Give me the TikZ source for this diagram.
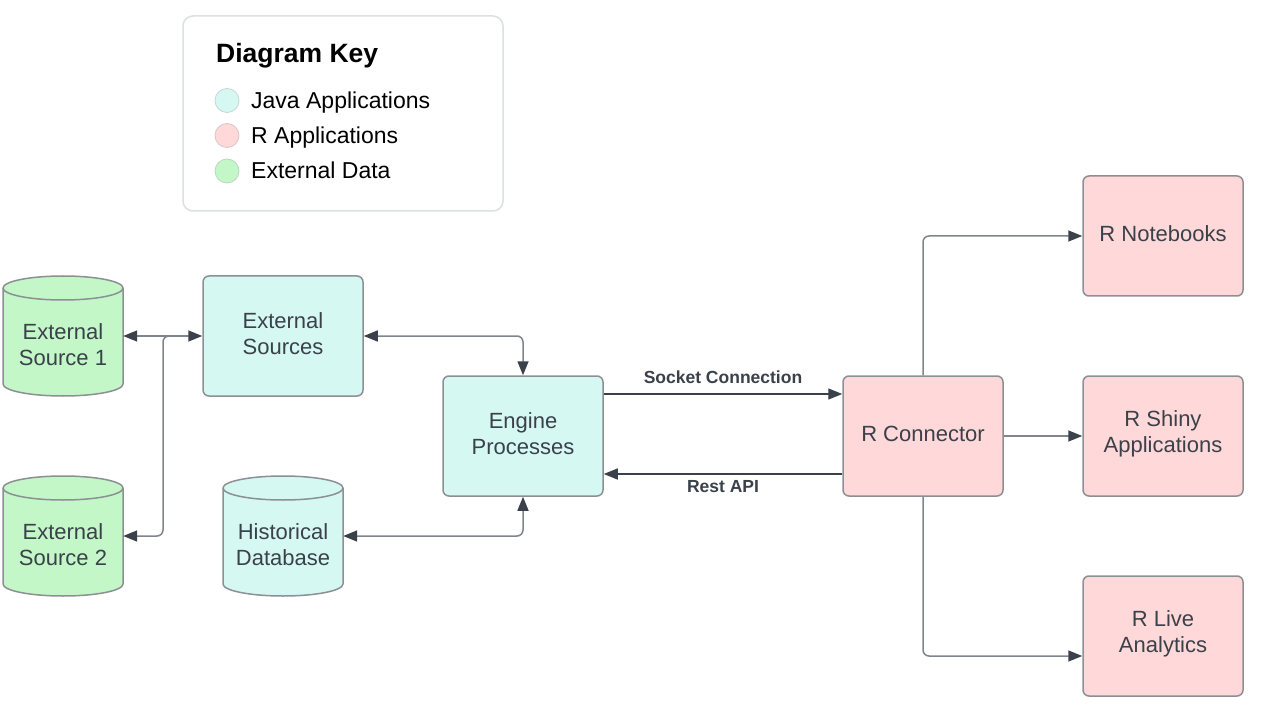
\documentclass[tikz,border=0pt]{standalone}
\usepackage{fontspec}
\setmainfont{Liberation Sans}
\usetikzlibrary{arrows.meta}
\definecolor{txt}{HTML}{3A414A}
\definecolor{bord}{HTML}{8C8F94}
\definecolor{keybord}{HTML}{DCDFE3}
\definecolor{javaF}{HTML}{D6F8F3}
\definecolor{rF}{HTML}{FFD8D9}
\definecolor{extF}{HTML}{C3F7C8}
\definecolor{lineC}{HTML}{80858C}
\begin{document}
\begin{tikzpicture}[x=1pt,y=-1pt,
  boxtext/.style={text=txt, align=center, font=\fontsize{22}{26}\selectfont},
  box/.style={draw=bord, line width=1.5pt, rounded corners=6pt,
    minimum width=160pt, minimum height=120pt, inner sep=0pt},
  boxlabel/.style={label={[boxtext, yshift=2pt]center:{#1}}},
  cylnode/.style={minimum width=120pt, minimum height=120pt, inner sep=0pt},
  cyllabel/.style={label={[boxtext, yshift=-9pt]center:{#1}}},
  cyl/.style={draw=bord, line width=1.5pt},
  >={Triangle[length=14pt,width=11pt,color=txt]},
  arr/.style={draw=lineC, line width=1.5pt, rounded corners=6pt},
  arrd/.style={draw=txt, line width=1.3pt},
  lbl/.style={text=txt, font=\bfseries\fontsize{17.5}{20}\selectfont, inner sep=3.3pt},
  keytext/.style={anchor=base west, font=\fontsize{23}{27}\selectfont, text=black, inner sep=0pt},
  keydot/.style={circle, minimum size=24pt, inner sep=0pt, line width=0.8pt}
]
\useasboundingbox[fill=white] (0,0) rectangle (1261,711);

% ---- Key ----
\node[draw=keybord, line width=1.5pt, rounded corners=10pt, minimum width=320pt,
  minimum height=195pt, inner sep=0pt] (key) at (343,113.5) {};
\node[keytext, font=\bfseries\fontsize{26.5}{30}\selectfont] (keytitle) at (216,63) {Diagram Key};
\node[keydot, fill=javaF, draw=javaF!75!black!60] (k1) at (227,100.5) {};
\node[keytext] (k1t) at (251,109) {Java Applications};
\node[keydot, fill=rF, draw=rF!75!black!60] (k2) at (227,135.5) {};
\node[keytext] (k2t) at (251,144) {R Applications};
\node[keydot, fill=extF, draw=extF!75!black!60] (k3) at (227,171) {};
\node[keytext] (k3t) at (251,179) {External Data};

% ---- Cylinders ----
\foreach \cx/\cy/\col in {63/336/extF, 63/536/extF, 283/536/javaF}{
  \path[cyl, fill=\col] (\cx-60,\cy-48) -- (\cx-60,\cy+48)
    arc[start angle=180, end angle=0, x radius=60, y radius=12]
    -- (\cx+60,\cy-48)
    arc[start angle=0, end angle=-180, x radius=60, y radius=12] -- cycle;
  \draw[cyl] (\cx-60,\cy-48) arc[start angle=180, end angle=0, x radius=60, y radius=12];
}
\node[cylnode, cyllabel={External\\Source 1}] (es1) at (63,336) {};
\node[cylnode, cyllabel={External\\Source 2}] (es2) at (63,536) {};
\node[cylnode, cyllabel={Historical\\Database}] (hdb) at (283,536) {};

% ---- Boxes ----
\node[box, fill=javaF, boxlabel={External\\Sources}] (exs) at (283,336) {};
\node[box, fill=javaF, boxlabel={Engine\\Processes}] (eng) at (523,436) {};
\node[box, fill=rF, boxlabel={R Connector}] (rc) at (923,436) {};
\node[box, fill=rF, boxlabel={R Notebooks}] (rnb) at (1163,236) {};
\node[box, fill=rF, boxlabel={R Shiny\\Applications}] (rsh) at (1163,436) {};
\node[box, fill=rF, boxlabel={R Live\\Analytics}] (rla) at (1163,636) {};

% ---- Connectors ----
\coordinate (j0) at (183,336);
\coordinate (j1) at (163,336);
\draw[arr,<->] (es1.east) -- (exs.west);
\draw[arr,->] (j0) -- (j1) |- (es2.east);
\draw[arr,<->] (exs.east) -| (eng.north);
\draw[arr,<->] (hdb.east) -| (eng.south);
\draw[arrd,->] ([yshift=42pt]eng.east) -- node[lbl, midway, above=6pt] {Socket Connection} ([yshift=42pt]rc.west);
\draw[arrd,->] ([yshift=-38pt]rc.west) -- node[lbl, midway, below=3pt] {Rest API} ([yshift=-38pt]eng.east);
\draw[arr,->] (rc.north) |- (rnb.west);
\draw[arr,->] (rc.east) -- (rsh.west);
\draw[arr,->] (rc.south) |- ([yshift=-20pt]rla.west);
\end{tikzpicture}
\end{document}
